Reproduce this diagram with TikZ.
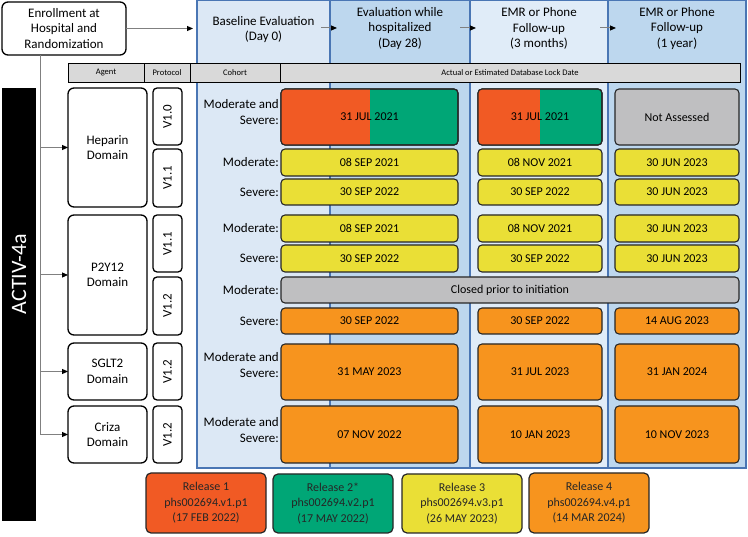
\documentclass[tikz,border=0pt]{standalone}
\usepackage{fontspec}
\setmainfont{Carlito}
\usetikzlibrary{arrows.meta,calc}
\definecolor{relO}{HTML}{F15A24}
\definecolor{relG}{HTML}{00A676}
\definecolor{relY}{HTML}{EADF36}
\definecolor{relA}{HTML}{F7941E}
\definecolor{boxgray}{HTML}{BFBFC1}
\definecolor{hdrgray}{HTML}{D9D9D9}
\definecolor{colA}{HTML}{DCE8F5}
\definecolor{colB}{HTML}{BDD7EE}
\definecolor{colC}{HTML}{E0ECF8}
\definecolor{colLine}{HTML}{4A76B4}
\definecolor{connGray}{HTML}{808080}
\newcommand\rb[7]{\node[#1,minimum width={(#4)-(#2)},minimum height={(#5)-(#3)}] (#6) at ({((#2)+(#4))/2},{((#3)+(#5))/2}) {#7};}
\begin{document}
\begin{tikzpicture}[x=1pt,y=-1pt,
  base/.style={inner sep=0pt,outer sep=0pt},
  colbox/.style={base,draw=colLine,line width=1.3pt},
  hdrtxt/.style={align=center,font=\fontsize{13}{15.5}\selectfont},
  hdrcell/.style={base,draw=black,fill=hdrgray,line width=0.8pt,font=\fontsize{8.5}{10}\selectfont},
  whitebox/.style={base,draw=black,fill=white,line width=1.3pt,rounded corners=6pt,align=center,font=\fontsize{13}{15.5}\selectfont},
  protbox/.style={base,draw=black,fill=white,line width=1.3pt,rounded corners=4pt,font=\fontsize{13}{15.5}\selectfont},
  datebox/.style={base,draw=black!85,line width=1.1pt,rounded corners=4pt,font=\fontsize{12}{14}\selectfont},
  cohort/.style={anchor=east,align=right,inner sep=0pt,font=\fontsize{13}{15.5}\selectfont},
  relbox/.style={base,draw=black!85,line width=1.2pt,rounded corners=5pt,align=center,font=\fontsize{12}{15.5}\selectfont,text=black!85},
  conn/.style={draw=connGray,line width=1pt,-{Triangle[length=6pt,width=5pt,color=black]}}
]
\useasboundingbox (0,0) rectangle (748,537);

% columns
\rb{colbox,fill=colA}{197}{0.7}{330}{468}{col1}{}
\rb{colbox,fill=colB}{330}{0.7}{470}{468}{col2}{}
\rb{colbox,fill=colC}{470}{0.7}{608}{468}{col3}{}
\rb{colbox,fill=colB}{608}{0.7}{746}{468}{col4}{}
\node[hdrtxt] (h1) at (263.5,29.5) {Baseline Evaluation\\(Day 0)};
\node[hdrtxt] (h2) at (400,28.5) {Evaluation while\\hospitalized\\(Day 28)};
\node[hdrtxt] (h3) at (539,28.5) {EMR or Phone\\Follow-up\\(3 months)};
\node[hdrtxt] (h4) at (677,28.5) {EMR or Phone\\Follow-up\\(1 year)};
\coordinate (a1s) at (321,28); \coordinate (a1e) at (337,28);
\coordinate (a2s) at (460,28); \coordinate (a2e) at (476,28);
\coordinate (a3s) at (600,28); \coordinate (a3e) at (616,28);
\draw[conn] (a1s) -- (a1e);
\draw[conn] (a2s) -- (a2e);
\draw[conn] (a3s) -- (a3e);

% enrollment
\rb{whitebox}{2}{2}{126}{55}{enr}{Enrollment at\\Hospital and\\Randomization}
\draw[conn,shorten >=4pt] (enr.east) -- (enr.east -| col1.west);

% header bar
\rb{hdrcell}{68}{63}{144}{82}{hAgent}{Agent}
\rb{hdrcell}{144}{63}{190}{82}{hProt}{Protocol}
\rb{hdrcell}{190}{63}{280}{82}{hCoh}{Cohort}
\rb{hdrcell}{280}{63}{740}{82}{hLock}{Actual or Estimated Database Lock Date}

% black bar
\rb{base,fill=black}{2}{88}{36}{521}{bar}{}
\node[rotate=90,text=white,font=\fontsize{22}{24}\selectfont] (activ) at (19,274) {ACTIV-4a};

% domain boxes
\rb{whitebox}{68}{88}{147}{207}{hep}{Heparin\\Domain}
\rb{whitebox}{68}{215}{147}{335}{p2y}{P2Y12\\Domain}
\rb{whitebox}{68}{343}{147}{400}{sglt}{SGLT2\\Domain}
\rb{whitebox}{68}{406}{147}{463}{criza}{Criza\\Domain}

% trunk connectors
\coordinate (trunk) at (40,55);
\draw[conn] (trunk) |- (criza.west);
\draw[conn] (trunk) |- (hep.west);
\draw[conn] (trunk) |- (p2y.west);
\draw[conn] (trunk) |- (sglt.west);

% protocol boxes
\rb{protbox}{153}{88}{182}{145}{pA}{\rotatebox{90}{V1.0}}
\rb{protbox}{153}{149}{182}{207}{pB}{\rotatebox{90}{V1.1}}
\rb{protbox}{153}{215}{182}{272}{pC}{\rotatebox{90}{V1.1}}
\rb{protbox}{153}{277}{182}{335}{pD}{\rotatebox{90}{V1.2}}
\rb{protbox}{153}{343}{182}{400}{pE}{\rotatebox{90}{V1.2}}
\rb{protbox}{153}{406}{182}{463}{pF}{\rotatebox{90}{V1.2}}

% row 1 (split boxes)
\rb{datebox,fill=relG}{281}{89}{458}{145}{r1a}{}
\begin{scope}
\clip[rounded corners=4pt] (r1a.south west) rectangle (r1a.north east);
\fill[relO] (r1a.south west) rectangle (370,89);
\end{scope}
\draw[black!85,line width=1.1pt,rounded corners=4pt] (r1a.south west) rectangle (r1a.north east);
\node[font=\fontsize{12}{14}\selectfont] at (r1a) {31 JUL 2021};
\rb{datebox,fill=relG}{478}{89}{602}{145}{r1b}{}
\begin{scope}
\clip[rounded corners=4pt] (r1b.south west) rectangle (r1b.north east);
\fill[relO] (r1b.south west) rectangle (540,89);
\end{scope}
\draw[black!85,line width=1.1pt,rounded corners=4pt] (r1b.south west) rectangle (r1b.north east);
\node[font=\fontsize{12}{14}\selectfont] at (r1b) {31 JUL 2021};
\rb{datebox,fill=boxgray}{615}{89}{739}{145}{r1c}{Not Assessed}
\node[cohort] at (279,112) {Moderate and\\Severe:};

% rows 2-5 yellow
\rb{datebox,fill=relY}{281}{149}{458}{176}{r2a}{08 SEP 2021}
\rb{datebox,fill=relY}{478}{149}{602}{176}{r2b}{08 NOV 2021}
\rb{datebox,fill=relY}{615}{149}{739}{176}{r2c}{30 JUN 2023}
\node[cohort] at (279,162.5) {Moderate:};
\rb{datebox,fill=relY}{281}{179}{458}{205}{r3a}{30 SEP 2022}
\rb{datebox,fill=relY}{478}{179}{602}{205}{r3b}{30 SEP 2022}
\rb{datebox,fill=relY}{615}{179}{739}{205}{r3c}{30 JUN 2023}
\node[cohort] at (279,192) {Severe:};
\rb{datebox,fill=relY}{281}{215}{458}{242}{r4a}{08 SEP 2021}
\rb{datebox,fill=relY}{478}{215}{602}{242}{r4b}{08 NOV 2021}
\rb{datebox,fill=relY}{615}{215}{739}{242}{r4c}{30 JUN 2023}
\node[cohort] at (279,228.5) {Moderate:};
\rb{datebox,fill=relY}{281}{245}{458}{272}{r5a}{30 SEP 2022}
\rb{datebox,fill=relY}{478}{245}{602}{272}{r5b}{30 SEP 2022}
\rb{datebox,fill=relY}{615}{245}{739}{272}{r5c}{30 JUN 2023}
\node[cohort] at (279,258.5) {Severe:};

% row 6 closed
\rb{datebox,fill=boxgray}{281}{277}{739}{303}{r6}{}
\node[font=\fontsize{12}{14}\selectfont] at (510,290) {Closed prior to initiation};
\node[cohort] at (279,290) {Moderate:};

% rows 7-9 orange
\rb{datebox,fill=relA}{281}{308}{458}{334}{r7a}{30 SEP 2022}
\rb{datebox,fill=relA}{478}{308}{602}{334}{r7b}{30 SEP 2022}
\rb{datebox,fill=relA}{615}{308}{739}{334}{r7c}{14 AUG 2023}
\node[cohort] at (279,321) {Severe:};
\rb{datebox,fill=relA}{281}{344}{458}{400}{r8a}{31 MAY 2023}
\rb{datebox,fill=relA}{478}{344}{602}{400}{r8b}{31 JUL 2023}
\rb{datebox,fill=relA}{615}{344}{739}{400}{r8c}{31 JAN 2024}
\node[cohort] at (279,365) {Moderate and\\Severe:};
\rb{datebox,fill=relA}{281}{406}{458}{463}{r9a}{07 NOV 2022}
\rb{datebox,fill=relA}{478}{406}{602}{463}{r9b}{10 JAN 2023}
\rb{datebox,fill=relA}{615}{406}{739}{463}{r9c}{10 NOV 2023}
\node[cohort] at (279,430) {Moderate and\\Severe:};

% release legend
\rb{relbox,fill=relO}{146}{473}{266}{533}{rel1}{Release 1\\phs002694.v1.p1\\(17 FEB 2022)}
\rb{relbox,fill=relG}{273}{474}{393}{533}{rel2}{Release 2*\\phs002694.v2.p1\\(17 MAY 2022)}
\rb{relbox,fill=relY}{402}{474}{522}{533}{rel3}{Release 3\\phs002694.v3.p1\\(26 MAY 2023)}
\rb{relbox,fill=relA}{529}{473}{649}{533}{rel4}{Release 4\\phs002694.v4.p1\\(14 MAR 2024)}
\end{tikzpicture}
\end{document}
